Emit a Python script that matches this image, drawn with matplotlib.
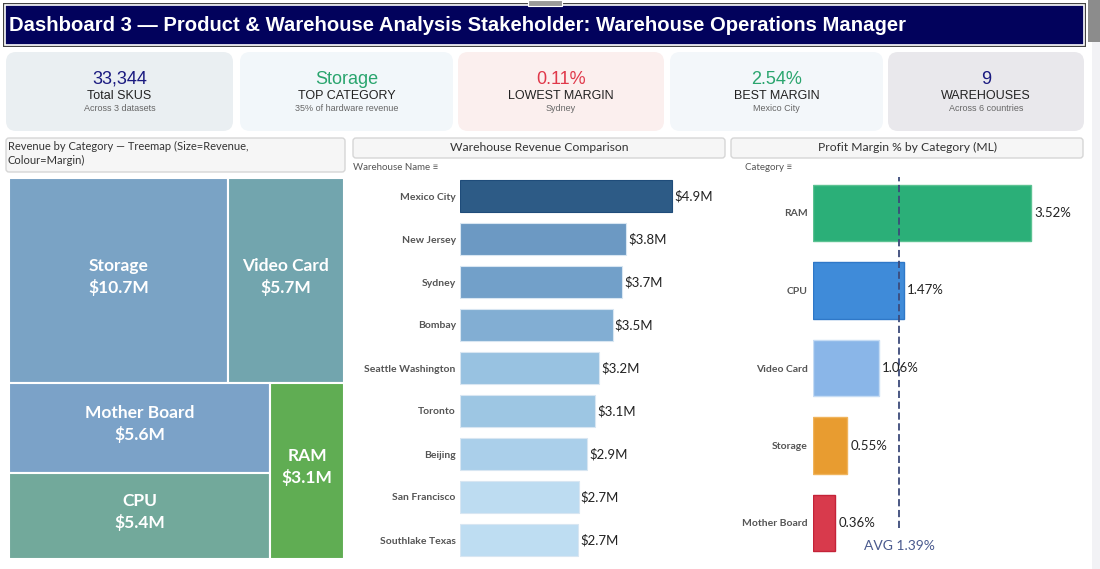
import matplotlib
matplotlib.use('Agg')
import matplotlib.pyplot as plt
from matplotlib.patches import FancyBboxPatch, Rectangle

# ---- data ----
kpi_values = ['33,344', 'Storage', '0.11%', '2.54%', '9']
kpi_labels = ['Total SKUS', 'TOP CATEGORY', 'LOWEST MARGIN', 'BEST MARGIN', 'WAREHOUSES']
kpi_subs = ['Across 3 datasets', '35% of hardware revenue', 'Sydney', 'Mexico City', 'Across 6 countries']

tree_cats = ['Storage', 'Video Card', 'Mother Board', 'CPU', 'RAM']
tree_rev = [10.7, 5.7, 5.6, 5.4, 3.1]

warehouses = ['Mexico City', 'New Jersey', 'Sydney', 'Bombay', 'Seattle Washington',
              'Toronto', 'Beijing', 'San Francisco', 'Southlake Texas']
wh_revenue = [4.9, 3.84, 3.74, 3.52, 3.21, 3.12, 2.94, 2.74, 2.72]

margin_cats = ['RAM', 'CPU', 'Video Card', 'Storage', 'Mother Board']
margin_pct = [3.52, 1.47, 1.06, 0.55, 0.36]
margin_avg = 1.39

W, H = 1100, 569
BODY = ['Lato', 'DejaVu Sans']
NARROW = ['Liberation Sans Narrow', 'Liberation Sans', 'DejaVu Sans']
plt.rcParams['font.family'] = BODY

fig = plt.figure(figsize=(W / 100, H / 100), dpi=100)
fig.patch.set_facecolor('white')


def rect(x0, y0, x1, y1):
    return [x0 / W, 1 - y1 / H, (x1 - x0) / W, (y1 - y0) / H]


# background axes in pixel coords
bg = fig.add_axes([0, 0, 1, 1])
bg.set_xlim(0, W)
bg.set_ylim(H, 0)
bg.axis('off')

# title bar
bg.add_patch(Rectangle((3, 3), 1083, 44, facecolor='#444444', edgecolor='none'))
bg.add_patch(Rectangle((5, 5), 1079, 40, facecolor='#02025C', edgecolor='white', lw=1.2))
bg.add_patch(Rectangle((528, 0), 34, 6, facecolor='#9A9A9A', edgecolor='white', lw=0.8))
bg.text(9, 25, 'Dashboard 3 \u2014 Product & Warehouse Analysis Stakeholder: Warehouse Operations Manager',
        color='white', fontsize=14.6, fontweight='bold', family=NARROW, va='center', ha='left')
bg.add_patch(Rectangle((1088, 0), 12, 42, facecolor='#8C8C8C', edgecolor='none'))
bg.add_patch(Rectangle((1092, 42), 8, 527, facecolor='#F2F2F5', edgecolor='none'))

# KPI cards
cards = [(6, 233, '#EAEFF2'), (240, 453, '#F2F7FA'), (458, 664, '#FBEFEE'),
         (670, 883, '#F3F7FA'), (888, 1084, '#E9E8EC')]
val_colors = ['#1A1A80', '#2AA56E', '#E0384A', '#2AA56E', '#1A1A80']
for (x0, x1, fc), v, lab, sub, vc in zip(cards, kpi_values, kpi_labels, kpi_subs, val_colors):
    bg.add_patch(FancyBboxPatch((x0, 52), x1 - x0, 79, boxstyle='round,pad=0,rounding_size=10',
                                facecolor=fc, edgecolor='none'))
    cx = (x0 + x1) / 2
    bg.text(cx, 79, v, color=vc, fontsize=13, family=NARROW, ha='center', va='center')
    bg.text(cx, 96, lab, color='#222222', fontsize=9, family=NARROW, ha='center', va='center')
    bg.text(cx, 108, sub, color='#666666', fontsize=6.5, family=NARROW, ha='center', va='center')

# panel headers
headers = [(6, 345, 138, 172), (353, 725, 138, 158), (731, 1083, 138, 158)]
for x0, x1, y0, y1 in headers:
    bg.add_patch(FancyBboxPatch((x0, y0), x1 - x0, y1 - y0, boxstyle='round,pad=0,rounding_size=3',
                                facecolor='#F6F6F6', edgecolor='#D6D6D6', lw=1))
bg.text(8, 146, 'Revenue by Category \u2014 Treemap (Size=Revenue,', fontsize=8, color='#333333', va='center')
bg.text(8, 160, 'Colour=Margin)', fontsize=8, color='#333333', va='center')
bg.text(539, 147, 'Warehouse Revenue Comparison', fontsize=8.7, color='#333333', ha='center', va='center')
bg.text(907, 147, 'Profit Margin % by Category (ML)', fontsize=8.7, color='#333333', ha='center', va='center')
bg.text(353, 167, 'Warehouse Name \u2261', fontsize=7, color='#555555', va='center')
bg.text(745, 167, 'Category \u2261', fontsize=7, color='#555555', va='center')

# ---- treemap ----
tm = fig.add_axes(rect(9, 178, 344, 559))
tm.set_xlim(0, 1)
tm.set_ylim(0, 1)
tm.axis('off')
total = sum(tree_rev)
top_h = (tree_rev[0] + tree_rev[1]) / total
w0 = tree_rev[0] / (tree_rev[0] + tree_rev[1])
bot = tree_rev[2] + tree_rev[3] + tree_rev[4]
col_w = (tree_rev[2] + tree_rev[3]) / bot
mb_h = (1 - top_h) * tree_rev[2] / (tree_rev[2] + tree_rev[3])
boxes = [
    (0, 1 - top_h, w0, top_h),
    (w0, 1 - top_h, 1 - w0, top_h),
    (0, 1 - top_h - mb_h, col_w, mb_h),
    (0, 0, col_w, 1 - top_h - mb_h),
    (col_w, 0, 1 - col_w, 1 - top_h),
]
tree_colors = ['#7AA3C5', '#72A5AE', '#7BA2C8', '#72A99B', '#60AD53']
for (x, y, w, h), cat, r, c in zip(boxes, tree_cats, tree_rev, tree_colors):
    tm.add_patch(Rectangle((x, y), w, h, facecolor=c, edgecolor='white', lw=1.5))
    tm.text(x + w / 2, y + h / 2 + 0.01, f'{cat}\n${r:.1f}M', color='white', fontsize=12.5,
            fontweight='bold', ha='center', va='center', linespacing=1.35)

# ---- warehouse bars ----
ax1 = fig.add_axes(rect(460, 174.5, 720, 561.5))
wh_colors = ['#2D5B86', '#6C99C3', '#72A0C9', '#82AED3', '#98C2E1',
             '#9DC6E3', '#AACFEA', '#BDDCF1', '#BEDDF2']
edges = ['#1F4C7A'] + ['#D8E6F2'] * 8
ypos = list(range(len(warehouses)))
ax1.barh(ypos, wh_revenue, height=0.74, color=wh_colors, edgecolor=edges, lw=0.8)
for y, v in zip(ypos, wh_revenue):
    ax1.text(v + 0.05, y, f'${v:.1f}M', va='center', ha='left', fontsize=9.5, color='#222222')
ax1.set_xlim(0, 6.0)
ax1.set_ylim(8.5, -0.5)
ax1.set_yticks(ypos)
ax1.set_yticklabels(warehouses, fontsize=7.5, fontweight='bold', color='#555555')
ax1.tick_params(axis='y', length=0, pad=3)
ax1.set_xticks([])
for s in ax1.spines.values():
    s.set_visible(False)

# ---- profit margin bars ----
ax2 = fig.add_axes(rect(813, 174.25, 1085, 561.75))
m_colors = ['#2BAF78', '#3F8BD9', '#8AB6E8', '#E89C30', '#D83A4C']
m_edges = ['#5CC292', '#2F78C8', '#C6DCF4', '#F0B45C', '#C42338']
mpos = list(range(len(margin_cats)))
ax2.barh(mpos, margin_pct, height=0.735, color=m_colors, edgecolor=m_edges, lw=1)
for y, v in zip(mpos, margin_pct):
    ax2.text(v + 0.05, y, f'{v:.2f}%', va='center', ha='left', fontsize=9.5, color='#222222')
ax2.axvline(margin_avg, ymin=0.087, ymax=0.993, color='#3C4A7A', ls=(0, (4, 2)), lw=1.3)
ax2.text(margin_avg, 4.3, f'AVG {margin_avg:.2f}%', ha='center', va='center', fontsize=10, color='#4A5A8E')
ax2.set_xlim(0, 4.394)
ax2.set_ylim(4.5, -0.5)
ax2.set_yticks(mpos)
ax2.set_yticklabels(margin_cats, fontsize=7.5, fontweight='bold', color='#555555')
ax2.tick_params(axis='y', length=0, pad=4)
ax2.set_xticks([])
for s in ax2.spines.values():
    s.set_visible(False)

fig.savefig('out.png', dpi=100)
